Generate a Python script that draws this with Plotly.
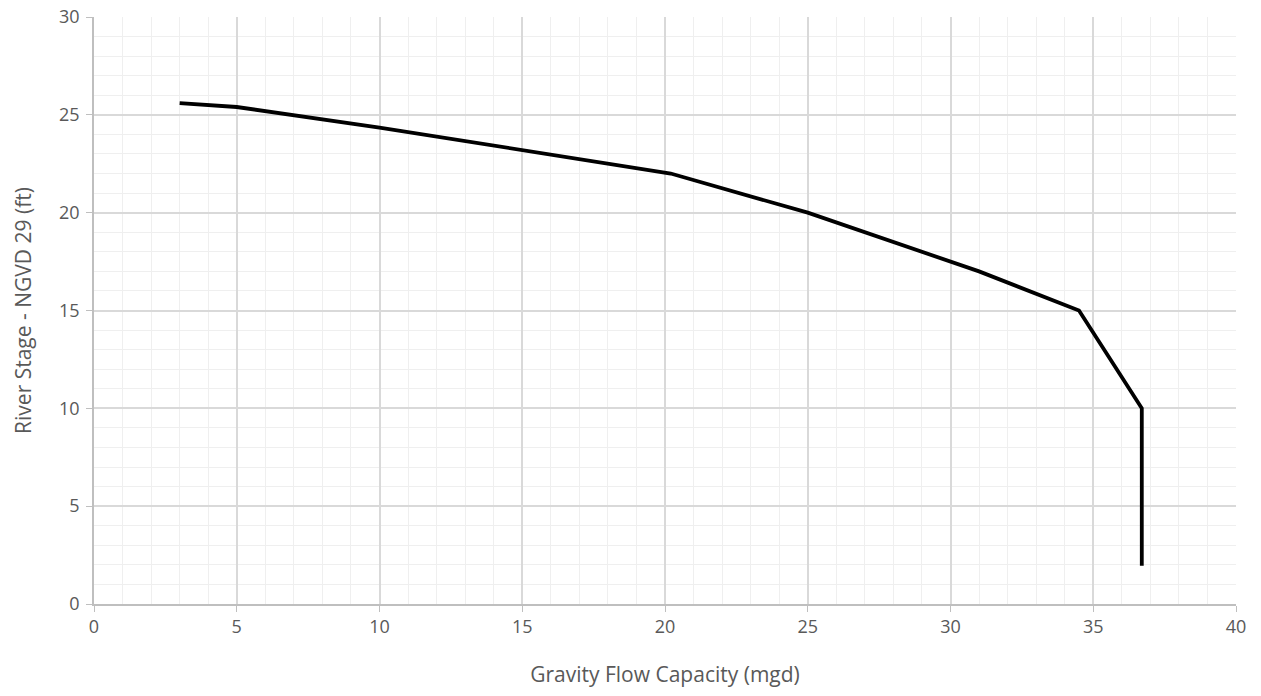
import plotly.graph_objects as go

flow_mgd = [3.0, 5.0, 10.0, 15.0, 20.2, 25.0, 31.0, 34.5, 36.7, 36.7]
stage_ft = [25.6, 25.4, 24.35, 23.2, 22.0, 20.0, 17.0, 15.0, 10.0, 1.95]
x_ticks = [0, 5, 10, 15, 20, 25, 30, 35, 40]
y_ticks = [0, 5, 10, 15, 20, 25, 30]

fig = go.Figure()
fig.add_trace(go.Scatter(x=flow_mgd, y=stage_ft, mode="lines",
                         line=dict(color="black", width=3.8),
                         showlegend=False))

font_fam = "Open Sans, Lato, sans-serif"
fig.update_layout(
    width=1245, height=680,
    margin=dict(l=86, r=17, t=9, b=84, autoexpand=False),
    plot_bgcolor="white", paper_bgcolor="white",
    font=dict(family=font_fam, color="#595959", size=18),
)
fig.update_xaxes(
    range=[0, 40], tickvals=x_ticks, ticktext=[str(v) for v in x_ticks],
    showgrid=True, gridcolor="#d9d9d9", gridwidth=1.5,
    minor=dict(dtick=1, showgrid=True, gridcolor="#efefef", gridwidth=1.2),
    showline=True, linecolor="#bfbfbf", linewidth=1.5,
    ticks="outside", ticklen=6, tickcolor="#bfbfbf",
    zeroline=False, automargin=False, ticklabeloverflow="allow",
    title=dict(text="Gravity Flow Capacity (mgd)", font=dict(size=21), standoff=34),
)
fig.update_yaxes(
    range=[0, 30], tickvals=y_ticks, ticktext=[str(v) for v in y_ticks],
    showgrid=True, gridcolor="#d9d9d9", gridwidth=1.5,
    minor=dict(dtick=1, showgrid=True, gridcolor="#efefef", gridwidth=1.2),
    showline=True, linecolor="#bfbfbf", linewidth=1.5,
    ticks="outside", ticklen=6, tickcolor="#bfbfbf",
    zeroline=False, automargin=False, ticklabeloverflow="allow",
    ticklabelstandoff=3,
    title=dict(text="River Stage - NGVD 29 (ft)", font=dict(size=21), standoff=22),
)
fig.write_html("out.html")
